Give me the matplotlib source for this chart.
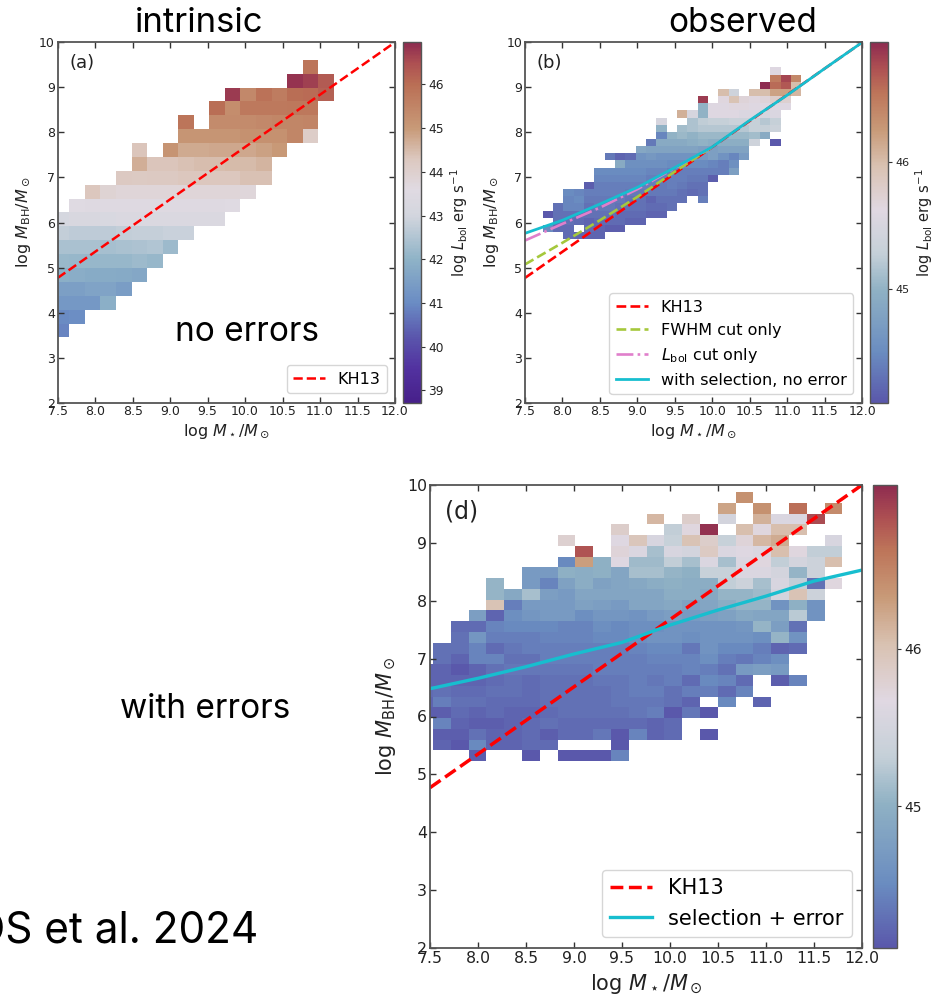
import matplotlib
matplotlib.use("Agg")
import matplotlib.pyplot as plt
import numpy as np
from matplotlib.colors import LinearSegmentedColormap

# figure size in pixels, everything below is placed in pixels
W = 932.0
H = 997.0

x_ticks = [7.5, 8.0, 8.5, 9.0, 9.5, 10.0, 10.5, 11.0, 11.5, 12.0]
y_ticks = [2, 3, 4, 5, 6, 7, 8, 9, 10]

kh13_x = [7.5, 12.0]
kh13_y = [4.77, 10.0]

# panel b curves
fwhm_x = [7.5, 8.0, 8.5, 9.0, 9.5, 10.0]
fwhm_y = [5.07, 5.55, 6.05, 6.57, 7.13, 7.68]
lbol_x = [7.5, 8.0, 8.5, 9.0, 9.5, 10.0]
lbol_y = [5.6, 5.97, 6.33, 6.74, 7.21, 7.68]
sel_x = [7.5, 8.0, 8.5, 9.0, 9.5, 10.0, 10.5, 11.0, 11.5, 12.0]
sel_y = [5.76, 6.05, 6.41, 6.78, 7.22, 7.68, 8.27, 8.83, 9.42, 10.0]

# panel d curve
err_x = [7.5, 8.0, 8.5, 9.0, 9.5, 10.0, 10.5, 11.0, 11.5, 12.0]
err_y = [6.48, 6.66, 6.86, 7.08, 7.28, 7.58, 7.84, 8.08, 8.34, 8.53]

# panel a cells, bottom row first: first column index, then log Lbol per column
a_starts = [-1, -1, -1, -1, -1, -1, -1, -1, -1, 0, 1, 3, 4, 4, 7, 7, 9, 10, 14, 15]
a_rows = [
    [40.9],
    [41.0, 41.05],
    [41.3, 41.3, 41.3, 41.9],
    [41.5, 41.5, 41.6, 41.6, 41.45],
    [41.9, 41.85, 41.8, 41.8, 41.75, 41.7],
    [42.15, 42.1, 42.1, 42.1, 42.1, 42.2, 42.1],
    [42.4, 42.4, 42.4, 42.35, 42.4, 42.45, 42.5, 42.2],
    [42.75, 42.7, 42.7, 42.7, 42.75, 42.8, 42.8, 42.85, 42.85],
    [43.1, 43.2, 43.2, 43.25, 43.3, 43.3, 43.3, 43.3, 43.35, 43.35, 43.35],
    [43.55, 43.5, 43.5, 43.5, 43.5, 43.5, 43.5, 43.5, 43.5, 43.5, 43.55],
    [44.3, 43.9, 43.8, 43.8, 43.8, 43.8, 43.8, 43.8, 43.8, 43.8, 43.75],
    [44.25, 44.2, 44.25, 44.25, 44.3, 44.3, 44.3, 44.3, 44.4, 44.4],
    [44.7, 44.35, 44.35, 44.4, 44.45, 44.45, 44.5, 44.5, 44.6],
    [44.35, None, 45.15, 44.75, 44.75, 44.8, 44.8, 44.8, 44.9, 45.0],
    [45.1, 45.1, 45.1, 45.1, 45.2, 45.2, 45.2, 45.45, 44.1],
    [45.85, None, 45.35, 45.35, 45.35, 45.4, 45.45, 45.45, 45.5],
    [46.0, 45.3, 45.75, 45.75, 45.75, 45.8, 45.8],
    [46.75, 45.4, 45.9, 45.7, 46.0, 46.05, 46.2],
    [46.85, 46.7, 46.3],
    [45.85],
]

# panel b cells
b_starts = [2, 0, 1, 0, 1, 2, 2, 4, 5, 5, 7, 6, 9, 10, 11, 11, 11, 13, 15, 15, 17, 21, 22, 22]
b_rows = [
    [44.25, 44.2, 44.2, 44.2],
    [44.5, 44.25, 44.25, None, 44.25, 44.2, 44.15, 44.15],
    [44.3, 44.3, 44.25, 44.2, 44.25, 44.25, 44.25, 44.2, 44.2],
    [44.1, 44.3, 44.3, 44.3, 44.3, 44.3, 44.3, 44.25, 44.25, 44.25, 44.2, 44.2],
    [44.3, 44.45, 44.45, 44.3, 44.35, 44.35, 44.3, 44.3, 44.3, 44.25, 44.25, 44.3],
    [44.45, 44.5, 44.35, 44.35, 44.35, 44.35, 44.3, 44.3, 44.2, 44.3, 44.3, 44.3, None, 44.4],
    [44.5, 44.45, 44.4, 44.4, 44.4, 44.4, 44.35, 44.35, 44.35, 44.35, 44.35, 44.3, 44.25, 44.3],
    [44.15, 44.4, 44.4, 44.4, 44.4, 44.4, 44.4, 44.35, 44.4, 44.35, 44.3, 44.3],
    [44.45, 44.45, 44.45, 44.45, 44.45, 44.4, 44.4, 44.4, 44.4, 44.35, 44.35, 44.15],
    [44.5, 44.5, 44.5, 44.5, 44.5, 44.45, 44.45, 44.4, 44.4, 44.4, 44.4, 44.4, 44.4, 44.75],
    [44.9, 44.55, 44.55, 44.55, 44.55, 44.5, 44.5, 44.5, 44.5, 44.45, 44.4, 44.55],
    [44.35, 44.2, 44.25, 44.6, 44.65, 44.6, 44.6, 44.6, 44.6, 44.65, 44.75, 44.6, 44.45, 44.7],
    [44.85, 44.8, 44.8, 44.8, 44.8, 44.8, 44.75, 44.75, 44.8, 44.8, 44.8],
    [44.35, 44.9, 44.9, 44.9, 44.95, 45.0, 44.95, 44.95, 44.95, 44.95, 45.4, None, 44.1],
    [44.45, 45.0, 45.05, 45.0, 45.05, 45.05, 45.05, 45.05, 45.05, 45.1, 44.9],
    [45.0, None, 45.1, 45.15, 45.2, 45.2, 45.2, 45.2, 45.2, 45.3, 45.3, 45.35],
    [45.5, None, None, 45.15, 45.25, 45.3, 45.3, 45.35, 45.35, 45.3, 45.2, 45.3],
    [46.1, 45.5, 45.0, 45.6, 45.6, 45.6, 45.55, 45.55, 45.5, 45.55],
    [45.0, 45.6, 45.6, 45.65, 45.65, 45.6, 45.6, 45.6, 45.6],
    [46.85, None, 45.65, 45.95, 45.7, 45.65, 45.7, 45.8, 45.75],
    [46.0, 45.4, None, 46.0, 46.0, 46.2, 46.2, 46.05],
    [46.95, 46.6, 46.7, 46.0],
    [46.5, 46.8, 46.4],
    [45.6],
]

# panel d cells
d_starts = [2, 0, 0, 0, -1, -1, -1, -1, -1, 0, 0, 1, 1, 2, 3, 3, 3, 5, 7, 8, 7, 10, 12, 16, 17]
d_rows = [
    [44.15, None, None, 44.1, None, 44.1, 44.1, 44.1, 44.45],
    [44.2, 44.1, 44.5, 44.2, 44.2, 44.25, 44.25, None, None, None, 44.1],
    [44.15, 44.15, 44.3, 44.2, 44.2, 44.25, 44.15, 44.25, 44.25, 44.35, 44.1, 44.45, 44.2, 44.25, None, 44.05],
    [44.45, 44.2, 44.15, 44.15, 44.2, 44.25, 44.3, 44.25, 44.25, 44.25, 44.25, 44.25, 44.2, 44.25],
    [44.15, 44.15, 44.25, 44.2, 44.25, 44.2, 44.2, 44.25, 44.3, 44.3, 44.3, 44.3, 44.35, 44.4, 44.05, 44.35, 44.1],
    [44.2, 44.4, 44.3, 44.3, 44.25, 44.25, 44.25, 44.3, 44.3, 44.3, 44.3, 44.35, 44.35, 44.35, 44.3, 44.2, None, 44.5, None, 44.2],
    [44.25, 44.3, 44.25, 44.25, 44.3, 44.3, 44.25, 44.3, 44.3, 44.3, 44.3, 44.35, 44.4, 44.4, 44.3, 44.4, 44.4, 44.25, 44.45],
    [44.2, 44.2, 44.2, 44.2, 44.25, 44.3, 44.25, 44.3, 44.3, 44.3, 44.35, 44.35, 44.4, 44.35, 44.4, 44.25, 44.5, 44.45, 44.25, None, 44.15, 44.45],
    [44.2, 44.2, 44.1, 44.2, 44.3, 44.35, 44.35, 44.35, 44.35, 44.35, 44.4, 44.4, 44.4, 44.4, 44.4, 44.45, 44.4, 44.3, 44.7, 44.75, 44.7],
    [44.3, 44.2, 44.45, 44.45, 44.3, 44.3, 44.4, 44.4, 44.4, 44.4, 44.4, 44.4, 44.45, 44.45, 44.45, 44.55, 44.4, 44.35, 44.45, 44.55],
    [44.3, 44.3, 44.45, 44.25, 44.35, 44.4, 44.4, 44.4, 44.4, 44.4, 44.4, 44.45, 44.5, 44.5, 44.35, 44.6, 44.5, 44.5, 44.4, 44.2, 44.25],
    [44.3, 44.65, 44.4, 44.4, 44.4, 44.45, 44.45, 44.45, 44.5, 44.5, 44.55, 44.6, 44.6, 44.55, 44.6, 44.6, 44.6, 44.55, 45.05, 44.6],
    [44.25, 44.25, 44.45, 44.5, 44.5, 44.5, 44.45, 44.45, 44.55, 44.5, 44.55, 44.55, 44.6, 44.6, 44.6, 44.6, 44.65, 45.05, 44.75, 44.3],
    [44.75, 44.2, 44.55, 44.65, 44.7, 44.7, 44.55, 44.65, 44.65, 44.6, 44.7, 44.75, 44.7, 44.75, 44.8, 44.9, 44.85, 44.85, 45.25, 44.6],
    [46.0, 44.4, 44.7, 44.7, 44.7, 44.8, 44.75, 44.7, 44.85, 44.85, 44.9, 44.8, 44.85, 44.95, 45.05, 45.05, 44.6, 45.0, 44.6],
    [45.05, 44.9, 45.15, 44.75, 44.7, 44.85, 44.85, 44.85, 44.85, 44.85, 44.95, 44.95, 44.9, 45.05, 45.05, 45.1, 45.5, 46.0, 45.4],
    [45.05, None, 44.7, 44.45, 44.8, 44.95, 44.8, 44.85, 44.9, 44.95, 45.0, 44.95, 44.95, 45.3, 45.4, 45.15, 45.55, 45.3, 44.3, 45.7],
    [44.7, 44.7, 45.0, 44.95, 45.0, 44.85, 45.15, 45.15, 45.05, 45.0, 45.35, 45.35, 45.6, 45.6, 45.5, 45.05, 45.4],
    [44.5, 46.3, 45.0, 45.65, 45.1, 45.1, 45.3, 45.15, 45.6, 45.15, 45.6, 45.7, 45.3, 45.5, 45.4, 46.05],
    [46.8, None, 45.75, 45.6, 45.15, 45.55, 45.5, 45.9, 45.6, 45.65, 45.6, 46.05, 45.7, 45.3, 45.3],
    [45.8, None, None, 45.65, 45.95, 45.55, 45.35, 46.0, 45.85, 45.35, 45.75, 46.1, 46.2, None, None, 45.55],
    [45.85, None, None, 45.3, 45.7, 47.0, None, 46.05, 45.7, 46.05, 46.05],
    [46.1, None, 45.85, None, 45.5, None, 46.15, 45.6, 45.6, 46.85],
    [46.25, None, 46.4, None, 46.65, None, 46.45],
    [46.4],
]

# colour stops, in log Lbol
a_cmap_vals = [38.72, 39.5, 40.2, 41.0, 42.0, 43.0, 43.6, 44.3, 45.0, 46.0, 46.5, 46.96]
a_cmap_cols = ["#47208a", "#5232a0", "#5a55ac", "#6a8cc4", "#8fb3c7", "#d3d6de",
               "#e0dae2", "#dcc8bf", "#c89a78", "#ba6f55", "#ad4f52", "#8e2c50"]
hi_cmap_vals = [44.1, 44.5, 45.0, 45.3, 45.65, 46.0, 46.3, 46.6, 46.8, 47.0]
hi_cmap_cols = ["#5a58ab", "#6a8cc0", "#8fb1c4", "#c5d0d8", "#e0d8e2", "#d9c2b2",
                "#c89a78", "#bd7459", "#ad4f52", "#8e2c50"]


def make_cmap(vals, cols):
    lo, hi = vals[0], vals[-1]
    return LinearSegmentedColormap.from_list(
        "lbol", [((v - lo) / (hi - lo), c) for v, c in zip(vals, cols)])


def make_grid(starts, rows, ncols):
    # column -1 is the partial bin cut by the left spine
    grid = np.full((len(rows), ncols + 1), np.nan)
    for i in range(len(rows)):
        for j in range(len(rows[i])):
            if rows[i][j] is not None:
                grid[i, starts[i] + 1 + j] = rows[i][j]
    return grid


def add_axes_px(left, top, right, bottom):
    return fig.add_axes([left / W, 1 - bottom / H, (right - left) / W, (bottom - top) / H])


def draw_panel(box, cbox, starts, rows, ncols, x0, dx, y0, dy, cmap, vmin, vmax, cticks, tsize, ctsize, lsize, xpad, ypad):
    ax = add_axes_px(*box)
    grid = make_grid(starts, rows, ncols)
    xe = x0 + dx * np.arange(-1, ncols + 1)
    ye = y0 + dy * np.arange(len(rows) + 1)
    mesh = ax.pcolormesh(xe, ye, np.ma.masked_invalid(grid), cmap=cmap, vmin=vmin, vmax=vmax)
    ax.set_xlim(7.5, 12.0)
    ax.set_ylim(2, 10)
    ax.set_xticks(x_ticks)
    ax.set_yticks(y_ticks)
    ax.tick_params(direction="in", top=True, right=True, labelsize=tsize, length=4,
                   width=1.0, color="#333333", labelcolor="#222222", pad=2)
    for s in ax.spines.values():
        s.set_linewidth(1.3)
        s.set_color("#555555")
    ax.set_xlabel(r"$\log\,M_\star/M_\odot$", fontsize=lsize, labelpad=xpad, color="#222222")
    ax.set_ylabel(r"$\log\,M_{\rm BH}/M_\odot$", fontsize=lsize, labelpad=ypad, color="#222222")

    cax = add_axes_px(*cbox)
    cb = fig.colorbar(mesh, cax=cax)
    cb.set_ticks(cticks)
    cb.ax.tick_params(labelsize=ctsize, length=3, width=0.8, color="#333333",
                      labelcolor="#222222", pad=2)
    cb.outline.set_edgecolor("#555555")
    cb.outline.set_linewidth(1.0)
    return ax, cb


fig = plt.figure(figsize=(W / 100, H / 100), dpi=100)

cmap_a = make_cmap(a_cmap_vals, a_cmap_cols)
cmap_hi = make_cmap(hi_cmap_vals, hi_cmap_cols)

# (a)
ax_a, cb_a = draw_panel((57.7, 42.3, 395, 402.7), (402.7, 42.3, 421.3, 402.7),
                        a_starts, a_rows, 17, 7.655, 0.2075, 3.45, 0.308,
                        cmap_a, 38.72, 46.96, [39, 40, 41, 42, 43, 44, 45, 46], 9, 8.8, 11.5, 3, 4.5)
cb_a.set_label(r"$\log\,L_{\rm bol}$ erg s$^{-1}$", fontsize=10.5, labelpad=3, color="#222222")
ax_a.plot(kh13_x, kh13_y, color="red", ls="--", lw=1.8, label="KH13")
ax_a.legend(loc="lower right", fontsize=11.5, bbox_to_anchor=(0.976, 0.027), borderaxespad=0)
ax_a.text(0.035, 0.943, "(a)", transform=ax_a.transAxes, fontsize=13, va="center", color="#222222")

# (b)
ax_b, cb_b = draw_panel((525, 42.3, 862.3, 402.7), (870, 42.3, 888.3, 402.7),
                        b_starts, b_rows, 25, 7.735, 0.138, 5.63, 0.1588,
                        cmap_hi, 44.1, 46.95, [45, 46], 9, 8, 11.5, 3, 4)
cb_b.set_label(r"$\log\,L_{\rm bol}$ erg s$^{-1}$", fontsize=10.5, labelpad=3, color="#222222")
ax_b.plot(kh13_x, kh13_y, color="red", ls="--", lw=1.9, label="KH13")
ax_b.plot(fwhm_x, fwhm_y, color="#a5c83c", ls="--", lw=1.9, label="FWHM cut only")
ax_b.plot(lbol_x, lbol_y, color="#e07fcb", ls="-.", lw=1.9, label=r"$L_{\rm bol}$ cut only")
ax_b.plot(sel_x, sel_y, color="#17becf", ls="-", lw=2.0, label="with selection, no error")
ax_b.legend(loc="lower right", fontsize=11.5, bbox_to_anchor=(0.972, 0.024), borderaxespad=0)
ax_b.text(0.035, 0.943, "(b)", transform=ax_b.transAxes, fontsize=13, va="center", color="#222222")

# (d)
ax_d, cb_d = draw_panel((430, 485, 862, 948), (873, 485, 897, 948),
                        d_starts, d_rows, 23, 7.531, 0.1854, 5.228, 0.186,
                        cmap_hi, 44.1, 47.04, [45, 46], 11.3, 10, 15, 5, 6.5)
ax_d.plot(kh13_x, kh13_y, color="red", ls="--", lw=2.5, label="KH13")
ax_d.plot(err_x, err_y, color="#17becf", ls="-", lw=2.4, label="selection + error")
ax_d.legend(loc="lower right", fontsize=15, bbox_to_anchor=(0.977, 0.024), borderaxespad=0)
ax_d.text(0.035, 0.943, "(d)", transform=ax_d.transAxes, fontsize=17, va="center", color="#222222")

# slide captions
cap_font = "Inter"
fig.text(199 / W, 1 - 23 / H, "intrinsic", fontsize=25, family=cap_font, ha="center", va="center", color="black")
fig.text(743 / W, 1 - 23 / H, "observed", fontsize=24, family=cap_font, ha="center", va="center", color="black")
fig.text(247 / W, 1 - 332 / H, "no errors", fontsize=24, family=cap_font, ha="center", va="center", color="black")
fig.text(205 / W, 1 - 709 / H, "with errors", fontsize=24, family=cap_font, ha="center", va="center", color="black")
fig.text(258 / W, 1 - 931 / H, "OS et al. 2024", fontsize=30.5, family=cap_font, ha="right", va="center", color="black")

fig.savefig("out.png", dpi=100)
